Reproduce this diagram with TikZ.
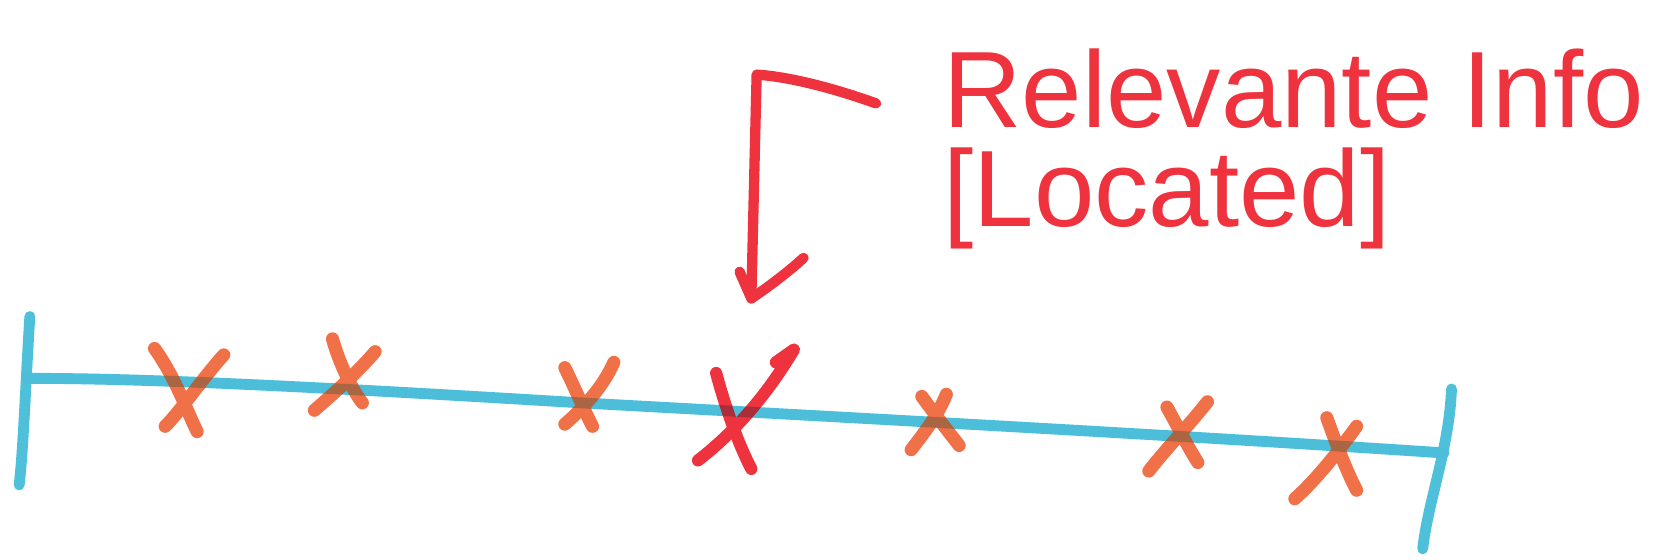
\documentclass[tikz,border=0pt]{standalone}
\usepackage{fontspec}
\setmainfont{Liberation Sans}
\definecolor{penblue}{RGB}{109,210,230}
\definecolor{tickblue}{RGB}{78,192,218}
\definecolor{penorange}{RGB}{240,112,72}
\definecolor{penred}{RGB}{238,50,62}
\newcommand\mytimeline{(ls) .. controls (120,355) and (250,360) .. (545,378)
   .. controls (800,392) and (1100,408) .. (le)}
\begin{document}
\begin{tikzpicture}[x=0.02cm,y=-0.02cm,
  blueline/.style={draw=penblue,line width=5.8pt,line cap=round,line join=round},
  tickline/.style={draw=tickblue,line width=5.8pt,line cap=round,line join=round},
  oxstroke/.style={draw=penorange,line width=7pt,line cap=round},
  rxstroke/.style={draw=penred,line width=6.5pt,line cap=round,line join=round},
  arrowline/.style={draw=penred,line width=5.5pt,line cap=round,line join=round},
  note/.style={text=penred,font=\fontsize{58}{62}\selectfont,inner sep=0pt}]
\useasboundingbox (0,0) rectangle (1568,525);
% timeline
\coordinate (lt1) at (28,297);
\coordinate (lt2) at (18,455);
\coordinate (ls) at (25,355);
\coordinate (le) at (1355,425);
\coordinate (rt1) at (1362,365);
\coordinate (rt2) at (1335,515);
\draw[tickline] (lt1) .. controls (24,360) and (22,420) .. (lt2);
\draw[tickline] (rt1) .. controls (1360,420) and (1340,470) .. (rt2);
\draw[blueline] \mytimeline;
% orange crosses
\draw[oxstroke] (145,327) .. controls (165,355) and (175,385) .. (185,405);
\draw[oxstroke] (210,333) .. controls (190,355) and (170,385) .. (155,400);
\draw[oxstroke] (312,318) .. controls (318,340) and (330,365) .. (340,378);
\draw[oxstroke] (352,330) .. controls (335,350) and (310,372) .. (295,385);
\draw[oxstroke] (530,345) .. controls (540,365) and (548,385) .. (556,400);
\draw[oxstroke] (576,340) .. controls (565,365) and (545,385) .. (530,398);
\draw[oxstroke] (865,372) .. controls (878,390) and (890,405) .. (900,418);
\draw[oxstroke] (888,370) .. controls (880,390) and (868,405) .. (855,422);
\draw[oxstroke] (1095,382) .. controls (1105,400) and (1115,420) .. (1124,434);
\draw[oxstroke] (1133,377) .. controls (1115,400) and (1095,420) .. (1078,442);
\draw[oxstroke] (1245,392) .. controls (1255,420) and (1265,445) .. (1273,460);
\draw[oxstroke] (1273,400) .. controls (1255,425) and (1235,450) .. (1215,468);
% red cross
\draw[rxstroke] (672,350) .. controls (680,380) and (692,415) .. (705,440);
\draw[rxstroke] (728,340) -- (745,328) .. controls (720,370) and (690,405) .. (655,432);
% ink overlap of the blue line over the crosses
\begin{scope}[blend mode=multiply]
\draw[blueline,opacity=0.5] \mytimeline;
\end{scope}
% label
\node[note,anchor=base west] (info) at (885,120) {Relevante Info};
\node[note,anchor=base west] (loc) at (885,213) {[Located]};
% arrow
\coordinate (a0) at (822,97);
\coordinate (a1) at (710,70);
\coordinate (a2) at (705,280);
\draw[arrowline] (a0) .. controls (780,82) and (740,72) .. (a1) -- (a2);
\draw[arrowline] (694,255) -- (a2) .. controls (720,270) and (740,255) .. (754,242);
\end{tikzpicture}
\end{document}
